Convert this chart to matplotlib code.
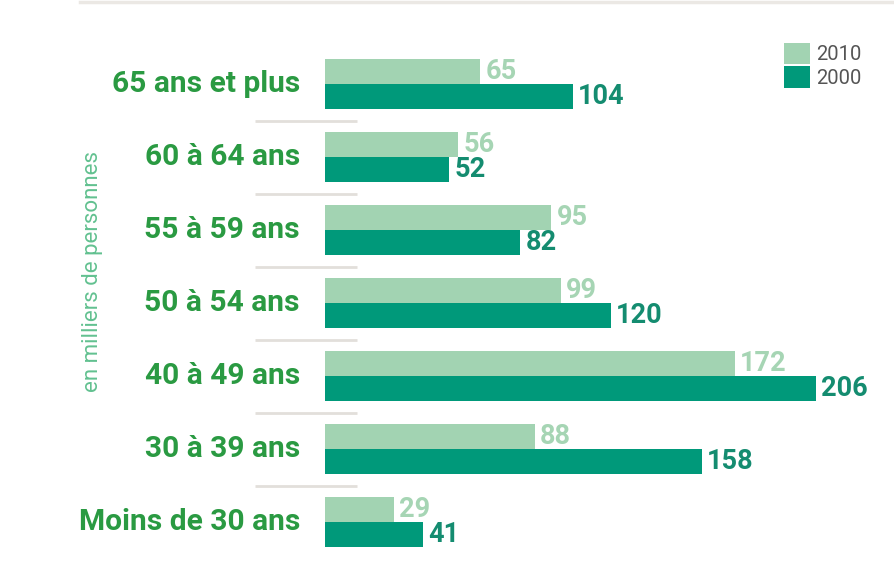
import numpy as np
import matplotlib.pyplot as plt
from matplotlib.lines import Line2D

# age groups, top to bottom
categories = ["65 ans et plus", "60 à 64 ans", "55 à 59 ans", "50 à 54 ans",
              "40 à 49 ans", "30 à 39 ans", "Moins de 30 ans"]
values_2010 = [65, 56, 95, 99, 172, 88, 29]
values_2000 = [104, 52, 82, 120, 206, 158, 41]
series_labels = ["2010", "2000"]

light = "#a2d3b2"
dark = "#00997a"
label_green = "#2a9a42"
light_text = "#a6d5b4"
dark_text = "#148c70"

plt.rcParams['font.family'] = ['Roboto', 'DejaVu Sans']

fig = plt.figure(figsize=(8.95, 5.76), dpi=100)
# axes starts where the bars start (x=325px) and covers the full height
ax = fig.add_axes([325 / 895, 0, 1 - 325 / 895, 1])

y = np.arange(len(categories))
h = 0.342

b1 = ax.barh(y - h / 2, values_2010, height=h, color=light, label=series_labels[0])
b2 = ax.barh(y + h / 2, values_2000, height=h, color=dark, label=series_labels[1])

for yy, v in zip(y, values_2010):
    ax.text(v + 2.2, yy - h / 2, str(v), va='center', ha='left',
            fontsize=19.5, fontweight='bold', color=light_text)
for yy, v in zip(y, values_2000):
    ax.text(v + 2.2, yy + h / 2, str(v), va='center', ha='left',
            fontsize=19.5, fontweight='bold', color=dark_text)

# category labels on the left
for yy, c in zip(y, categories):
    ax.text(-10.5, yy, c, va='center', ha='right', fontsize=21.5,
            fontweight='bold', color=label_green, clip_on=False)

# short separators between groups
for yy in y[:-1]:
    ax.plot([-29.4, 13.4], [yy + 0.5, yy + 0.5], color="#e2dfdb", lw=2,
            clip_on=False, solid_capstyle='butt')

ax.set_xlim(0, 570 / 2.383)
ax.set_ylim((576 - 84) / 73, -84 / 73)
ax.axis('off')

# faint line along the top
fig.add_artist(Line2D([80 / 895, 1], [1 - 1.5 / 576, 1 - 1.5 / 576],
                      color="#ebe8e4", lw=2.5))

fig.text(93 / 895, 1 - 272 / 576, "en milliers de personnes", rotation=90,
         ha='center', va='center', fontsize=16, color="#62c190")

ax.legend(handles=[b1, b2], loc='upper left',
          bbox_to_anchor=(784 / 895, 1 - 43 / 576), bbox_transform=fig.transFigure,
          frameon=False, fontsize=14.5, handlelength=1.3, handleheight=1.25,
          labelspacing=0.1, handletextpad=0.3, borderpad=0, borderaxespad=0,
          labelcolor="#555555")

fig.savefig("out.png", dpi=100)
